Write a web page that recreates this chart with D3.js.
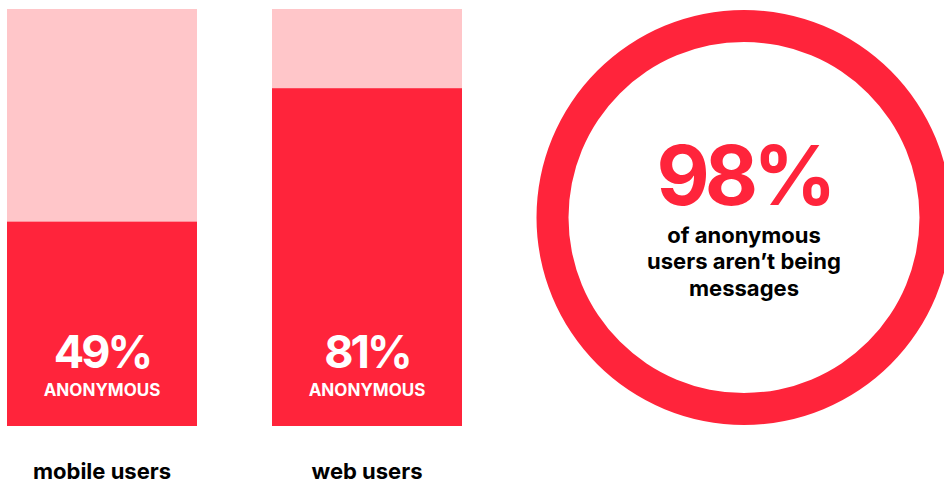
<!DOCTYPE html>
<html>
<head>
<meta charset="utf-8">
<script src="https://cdn.jsdelivr.net/npm/d3@7"></script>
<style>
  body { margin: 0; background: #fff; }
  svg { display: block; font-family: Inter, "Noto Sans", sans-serif; }
</style>
</head>
<body>
<svg id="chart" width="944" height="484"></svg>
<script>
// data
const categories = ["mobile users", "web users"];
const anonymousPct = [49, 81];
const ringPct = 98;
const ringLines = ["of anonymous", "users aren\u2019t being", "messages"];

const RED = "#ff243b";
const PINK = "#ffc6c9";

const svg = d3.select("#chart");

// bars
const x = d3.scaleBand()
  .domain(categories)
  .range([7, 462])
  .paddingInner(75 / 265)
  .paddingOuter(0);

const y = d3.scaleLinear()
  .domain([0, 100])
  .range([426, 9]);

const bars = svg.selectAll(".bar")
  .data(categories.map((c, i) => ({ cat: c, value: anonymousPct[i] })))
  .enter()
  .append("g")
  .attr("class", "bar");

// background (100%)
bars.append("rect")
  .attr("x", d => x(d.cat))
  .attr("y", y(100))
  .attr("width", x.bandwidth())
  .attr("height", y(0) - y(100))
  .attr("fill", PINK);

// anonymous share
bars.append("rect")
  .attr("x", d => x(d.cat))
  .attr("y", d => y(d.value))
  .attr("width", x.bandwidth())
  .attr("height", d => y(0) - y(d.value))
  .attr("fill", RED);

bars.append("text")
  .attr("x", d => x(d.cat) + x.bandwidth() / 2)
  .attr("y", 368)
  .attr("text-anchor", "middle")
  .attr("fill", "#fff")
  .attr("font-weight", 700)
  .attr("font-size", "45px")
  .attr("letter-spacing", "-3px")
  .text(d => d.value + "%");

bars.append("text")
  .attr("x", d => x(d.cat) + x.bandwidth() / 2)
  .attr("y", 396)
  .attr("text-anchor", "middle")
  .attr("fill", "#fff")
  .attr("font-weight", 700)
  .attr("font-size", "17px")
  .text("ANONYMOUS");

bars.append("text")
  .attr("x", d => x(d.cat) + x.bandwidth() / 2)
  .attr("y", 479)
  .attr("text-anchor", "middle")
  .attr("fill", "#000")
  .attr("font-weight", 700)
  .attr("font-size", "22px")
  .text(d => d.cat);

// ring
const cx = 744, cy = 217.5;
const ring = svg.append("g").attr("transform", `translate(${cx},${cy})`);

const arc = d3.arc().innerRadius(175.5).outerRadius(207.5);
ring.append("path")
  .attr("d", arc({ startAngle: 0, endAngle: 2 * Math.PI }))
  .attr("fill", RED);

ring.append("text")
  .attr("x", 0)
  .attr("y", -13)
  .attr("text-anchor", "middle")
  .attr("fill", RED)
  .attr("font-weight", 700)
  .attr("font-size", "82px")
  .attr("letter-spacing", "-5px")
  .text(ringPct + "%");

ring.selectAll(".line")
  .data(ringLines)
  .enter()
  .append("text")
  .attr("class", "line")
  .attr("x", 0)
  .attr("y", (d, i) => 25 + i * 26.5)
  .attr("text-anchor", "middle")
  .attr("fill", "#000")
  .attr("font-weight", 700)
  .attr("font-size", "22px")
  .text(d => d);
</script>
</body>
</html>
